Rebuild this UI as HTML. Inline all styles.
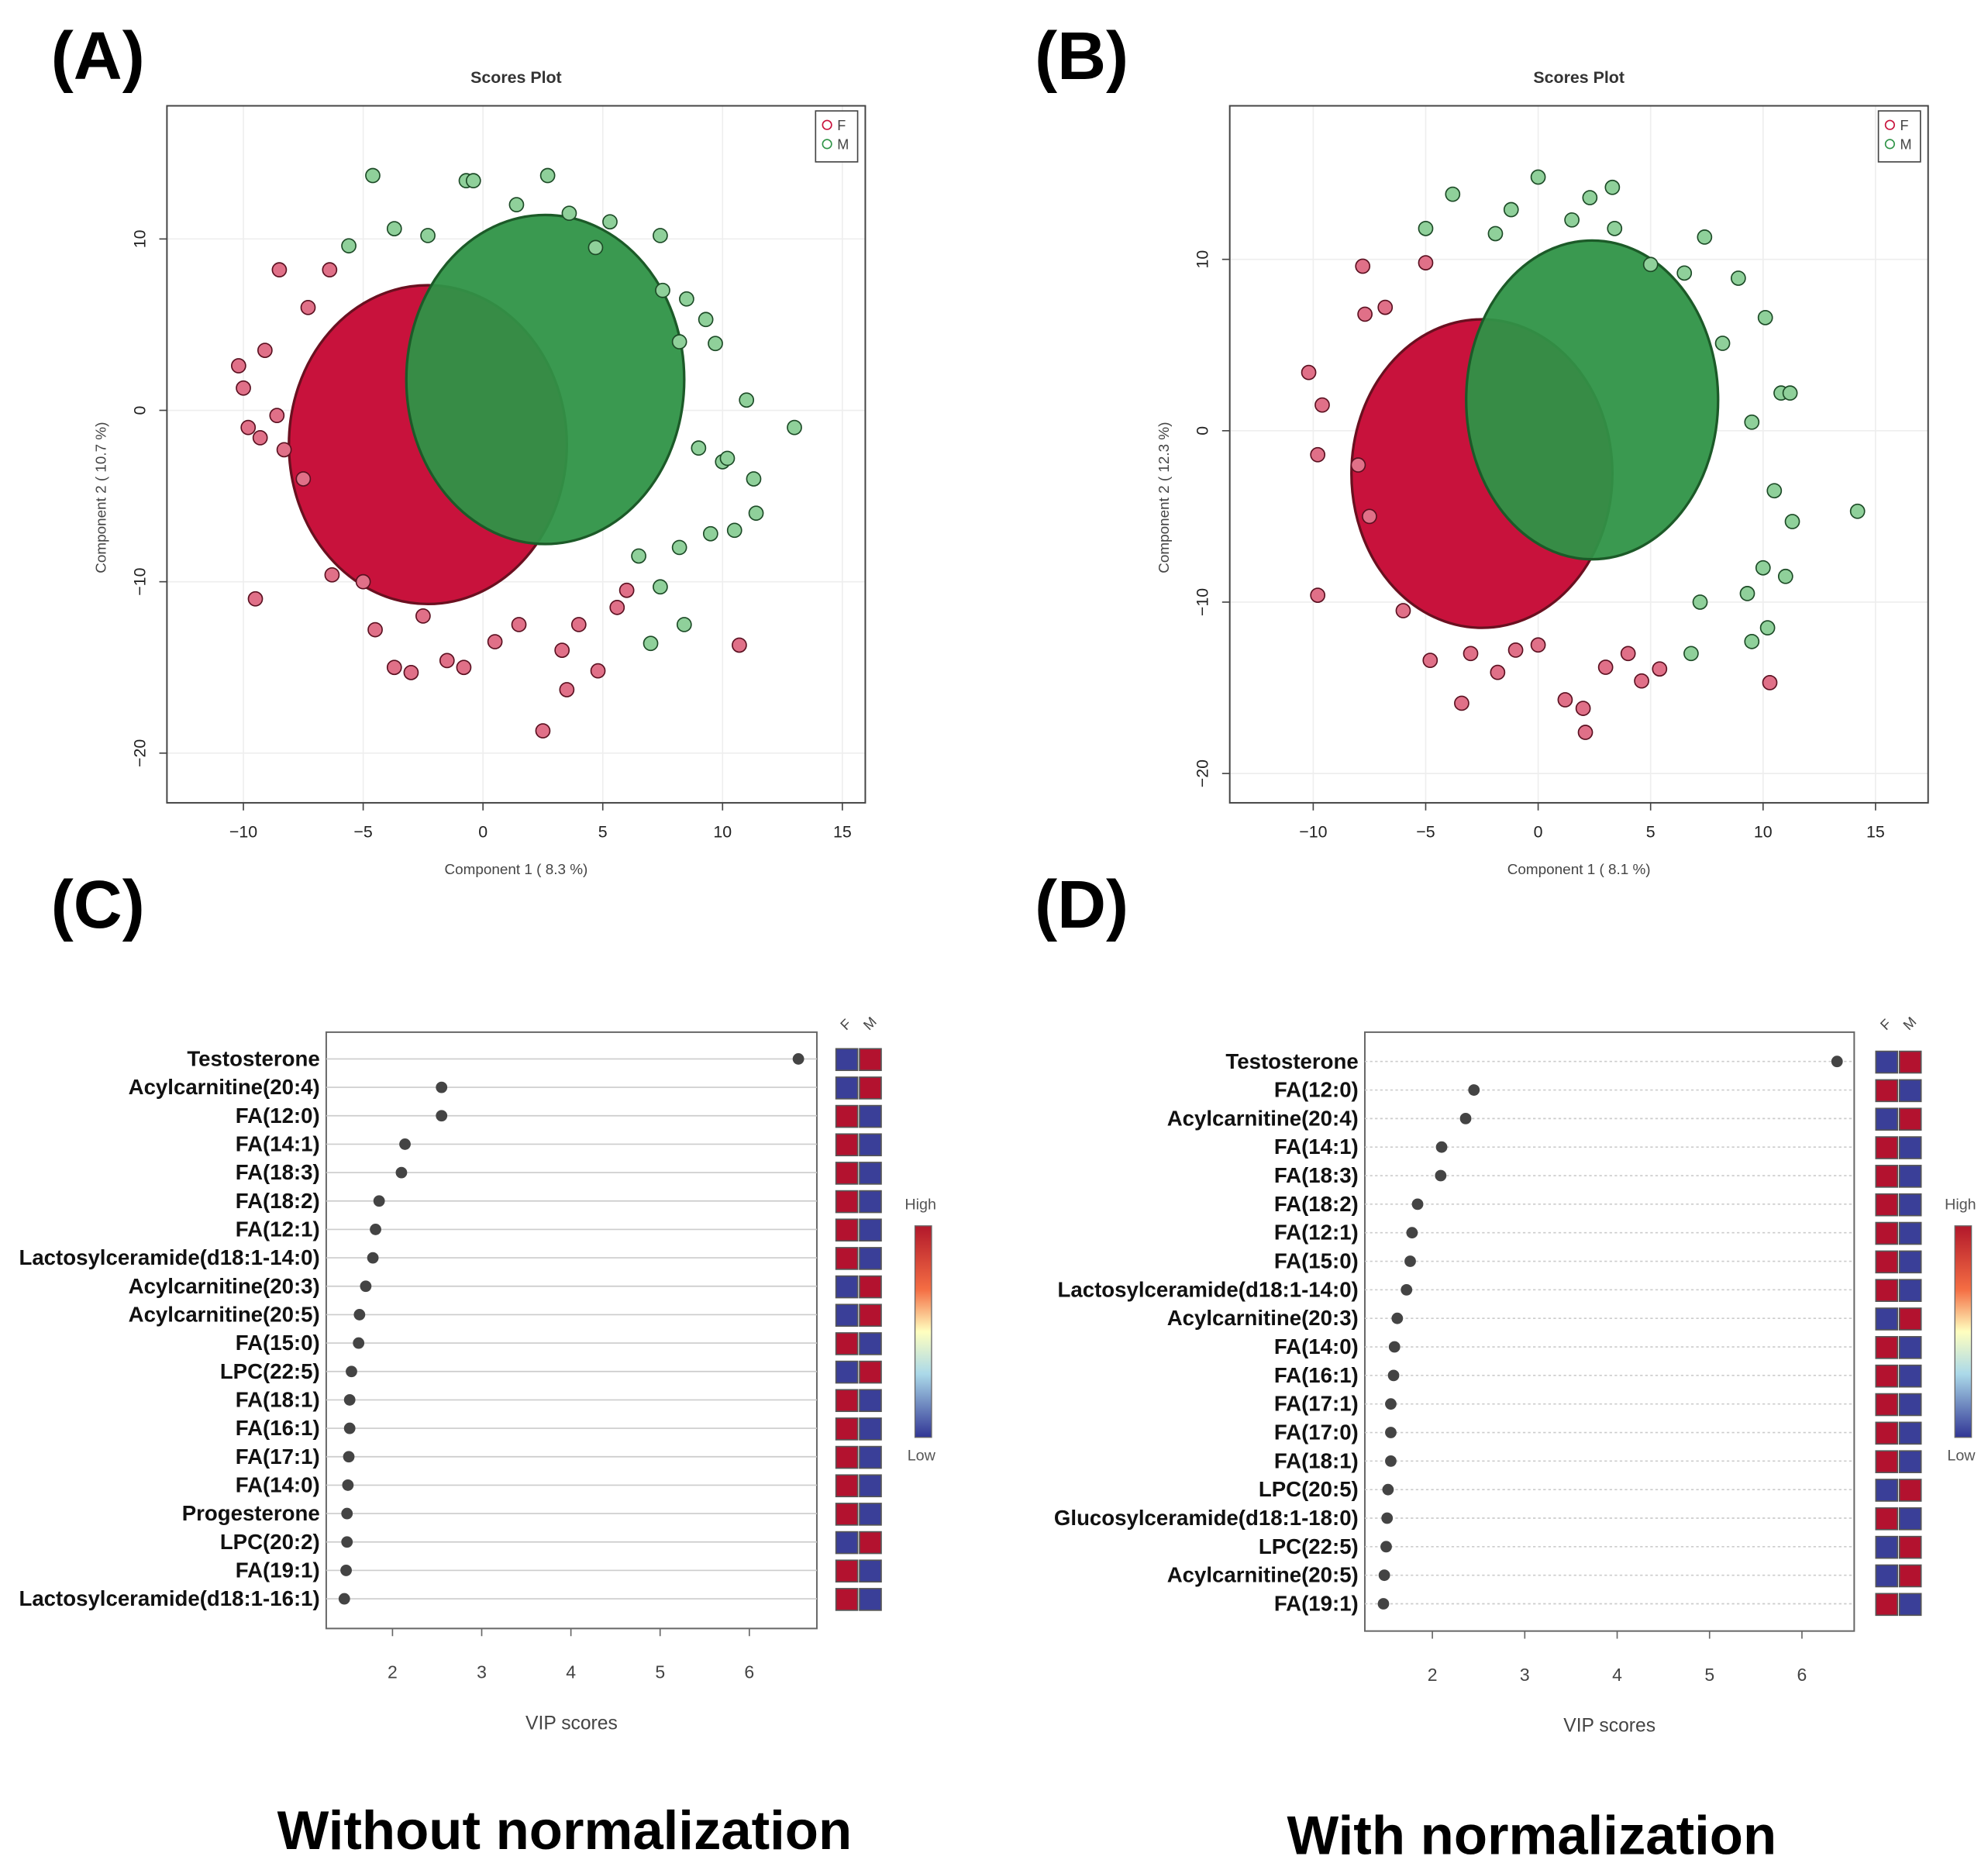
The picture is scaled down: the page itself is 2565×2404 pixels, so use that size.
<!DOCTYPE html>
<html><head><meta charset="utf-8"><style>
html,body{margin:0;padding:0;background:#fff}
svg{display:block}
text{font-family:"Liberation Sans",sans-serif}
</style></head><body>
<svg id="fig" xmlns="http://www.w3.org/2000/svg" width="2565" height="2404" viewBox="0 0 1560 1462"></svg>
<script>
// ---------- DATA ----------
const aRedOut=[[-10.2,2.6],[-10,1.3],[-9.8,-1],[-9.3,-1.6],[-8.6,-0.3],[-8.3,-2.3],[-8.5,8.2],[-9.1,3.5],[-6.4,8.2],[-7.3,6],[-9.5,-11],[-5,-10],[-4.5,-12.8],[-3.7,-15],[-3,-15.3],[-1.5,-14.6],[-0.8,-15],[0.5,-13.5],[1.5,-12.5],[2.5,-18.7],[3.5,-16.3],[3.3,-14],[4.8,-15.2],[5.6,-11.5],[4,-12.5],[-6.3,-9.6],[-7.5,-4],[-2.5,-12],[10.7,-13.7],[6,-10.5]];
const aGreenOut=[[-4.6,13.7],[2.7,13.7],[-0.7,13.4],[-0.4,13.4],[1.4,12],[3.6,11.5],[5.3,11],[4.7,9.5],[7.4,10.2],[7.5,7],[8.5,6.5],[9.3,5.3],[8.2,4],[9.7,3.9],[11,0.6],[13,-1],[10,-3],[11.3,-4],[11.4,-6],[10.5,-7],[9.5,-7.2],[8.2,-8],[7.4,-10.3],[8.4,-12.5],[7,-13.6],[-5.6,9.6],[-3.7,10.6],[-2.3,10.2],[9,-2.2],[10.2,-2.8],[6.5,-8.5]];
const bRedOut=[[-10.2,3.4],[-9.6,1.5],[-9.8,-1.4],[-9.8,-9.6],[-7.8,9.6],[-7.7,6.8],[-6.8,7.2],[-5,9.8],[-4.8,-13.4],[-3.4,-15.9],[-1.8,-14.1],[-1,-12.8],[1.2,-15.7],[2.1,-17.6],[2,-16.2],[3,-13.8],[4.6,-14.6],[5.4,-13.9],[10.3,-14.7],[-6,-10.5],[-3,-13],[0,-12.5],[4,-13],[-7.5,-5],[-8,-2]];
const bGreenOut=[[-3.8,13.8],[-1.2,12.9],[0,14.8],[1.5,12.3],[2.3,13.6],[3.3,14.2],[3.4,11.8],[-5,11.8],[-1.9,11.5],[5,9.7],[6.5,9.2],[7.4,11.3],[8.9,8.9],[10.1,6.6],[10.8,2.2],[11.2,2.2],[11.3,-5.3],[14.2,-4.7],[10,-8],[11,-8.5],[10.2,-11.5],[9.3,-9.5],[9.5,-12.3],[6.8,-13],[7.2,-10],[8.2,5.1],[9.5,0.5],[10.5,-3.5]];
// cores: [cx, cy, rx, ry]
const aRedCore=[-2.3,-2,5.8,9.3];
const aGreenCore=[2.6,1.8,5.8,9.6];
const bRedCore=[-2.5,-2.5,5.8,9.0];
const bGreenCore=[2.4,1.8,5.6,9.3];
const xTicks=[-10,-5,0,5,10,15];
const yTicks=[10,0,-10,-20];
const vipTicks=[2,3,4,5,6];
const cNames=["Testosterone","Acylcarnitine(20:4)","FA(12:0)","FA(14:1)","FA(18:3)","FA(18:2)","FA(12:1)","Lactosylceramide(d18:1-14:0)","Acylcarnitine(20:3)","Acylcarnitine(20:5)","FA(15:0)","LPC(22:5)","FA(18:1)","FA(16:1)","FA(17:1)","FA(14:0)","Progesterone","LPC(20:2)","FA(19:1)","Lactosylceramide(d18:1-16:1)"];
const cVals=[6.55,2.55,2.55,2.14,2.1,1.85,1.81,1.78,1.7,1.63,1.62,1.54,1.52,1.52,1.51,1.5,1.49,1.49,1.48,1.46];
const cFHigh=[0,0,1,1,1,1,1,1,0,0,1,0,1,1,1,1,1,0,1,1];
const dNames=["Testosterone","FA(12:0)","Acylcarnitine(20:4)","FA(14:1)","FA(18:3)","FA(18:2)","FA(12:1)","FA(15:0)","Lactosylceramide(d18:1-14:0)","Acylcarnitine(20:3)","FA(14:0)","FA(16:1)","FA(17:1)","FA(17:0)","FA(18:1)","LPC(20:5)","Glucosylceramide(d18:1-18:0)","LPC(22:5)","Acylcarnitine(20:5)","FA(19:1)"];
const dVals=[6.38,2.45,2.36,2.1,2.09,1.84,1.78,1.76,1.72,1.62,1.59,1.58,1.55,1.55,1.55,1.52,1.51,1.5,1.48,1.47];
const dFHigh=[0,1,0,1,1,1,1,1,1,0,1,1,1,1,1,0,1,0,0,1];

// ---------- HELPERS ----------
const NS="http://www.w3.org/2000/svg";
const svg=document.getElementById('fig');
function mk(tag,attrs,parent,txt){const e=document.createElementNS(NS,tag);for(const k in attrs)e.setAttribute(k,attrs[k]);if(txt!==undefined)e.textContent=txt;(parent||svg).appendChild(e);return e;}
const RED="#c8123c",GREEN="#2f9447",HR="#b3122f",HB="#3a3f98";

function scatter(id,box,xm,ym,redCore,greenCore,redOut,greenOut,xlab,ylab){
  const g=mk('g',{});
  const X=v=>xm.x0+(v-0)*xm.k, Y=v=>ym.y0-(v-0)*ym.k;
  xTicks.forEach(t=>{const l=mk('line',{x1:X(t),x2:X(t),y1:box[1],y2:box[3],stroke:'#eee','stroke-width':1},g);});
  yTicks.forEach(t=>{const l=mk('line',{x1:box[0],x2:box[2],y1:Y(t),y2:Y(t),stroke:'#eee','stroke-width':1},g);});
  let e=mk('ellipse',{cx:X(redCore[0]),cy:Y(redCore[1]),rx:redCore[2]*xm.k,ry:redCore[3]*ym.k,fill:RED,stroke:'#6a1020','stroke-width':2},g);
  
  e=mk('ellipse',{cx:X(greenCore[0]),cy:Y(greenCore[1]),rx:greenCore[2]*xm.k,ry:greenCore[3]*ym.k,fill:GREEN,stroke:'#1c5a28','stroke-width':2,'fill-opacity':0.95},g);
  
  redOut.forEach(p=>{const c=mk('circle',{cx:X(p[0]),cy:Y(p[1]),r:5.5,fill:'#e07088',stroke:'#5a1020','stroke-width':1},g);});
  greenOut.forEach(p=>{const c=mk('circle',{cx:X(p[0]),cy:Y(p[1]),r:5.5,fill:'#8fd09a',stroke:'#1c4a26','stroke-width':1},g);});
  let r=mk('rect',{x:box[0],y:box[1],width:box[2]-box[0],height:box[3]-box[1],fill:'none',stroke:'#444','stroke-width':1.2},g);
  
  xTicks.forEach(t=>{mk('line',{x1:X(t),x2:X(t),y1:box[3],y2:box[3]+6,stroke:'#444'},g);const tx=mk('text',{x:X(t),y:box[3]+27,'font-size':13,'text-anchor':'middle',fill:'#222'},g,t<0?'\u2212'+(-t):t);});
  yTicks.forEach(t=>{mk('line',{x1:box[0]-6,x2:box[0],y1:Y(t),y2:Y(t),stroke:'#444'},g);const tx=mk('text',{x:box[0]-17,y:Y(t),'font-size':13,'text-anchor':'middle',fill:'#222',transform:`rotate(-90 ${box[0]-17} ${Y(t)})`},g,t<0?'\u2212'+(-t):t);});
  let t=mk('text',{x:(box[0]+box[2])/2,y:box[1]-18,'font-size':13,'font-weight':'bold','text-anchor':'middle',fill:'#333'},g,'Scores Plot');
  t=mk('text',{x:(box[0]+box[2])/2,y:box[3]+56,'font-size':11.5,'text-anchor':'middle',fill:'#444'},g,xlab);
  const yx=box[0]-48,yy=(box[1]+box[3])/2+34;
  t=mk('text',{x:yx,y:yy,'font-size':11.5,'text-anchor':'middle',fill:'#444',transform:`rotate(-90 ${yx} ${yy})`},g,ylab);
  const lg=mk('g',{},g);
  mk('rect',{x:box[2]-39,y:box[1]+4,width:33,height:40,fill:'#fff',stroke:'#444'},lg);
  mk('circle',{cx:box[2]-30,cy:box[1]+15,r:3.5,fill:'none',stroke:RED},lg);
  mk('text',{x:box[2]-22,y:box[1]+19,'font-size':11,fill:'#444'},lg,'F');
  mk('circle',{cx:box[2]-30,cy:box[1]+30,r:3.5,fill:'none',stroke:GREEN},lg);
  mk('text',{x:box[2]-22,y:box[1]+34,'font-size':11,fill:'#444'},lg,'M');
}

function vip(id,box,x2,k,rowY0,rowStep,names,vals,fHigh,hmX,cbX){
  const g=mk('g',{});
  const X=v=>x2+(v-2)*k;
  let r=mk('rect',{x:box[0],y:box[1],width:box[2]-box[0],height:box[3]-box[1],fill:'#fff',stroke:'#666','stroke-width':1.2},g);
  
  names.forEach((n,i)=>{
    const y=rowY0+i*rowStep;
    mk('line',{x1:box[0],x2:box[2],y1:y,y2:y,stroke:'#ccc','stroke-width':1,'stroke-dasharray':id==='d'?'2,2':''},g);
    const t=mk('text',{x:box[0]-5,y:y+5.5,'font-size':16.8,'font-weight':'bold','text-anchor':'end',fill:'#111'},g,n);
    const c=mk('circle',{cx:X(vals[i]),cy:y,r:4.5,fill:'#444'},g);
    const a=mk('rect',{x:hmX,y:y-8,width:17,height:17,fill:fHigh[i]?HR:HB,stroke:'#555','stroke-width':1},g);
    const b=mk('rect',{x:hmX+18.5,y:y-8,width:17,height:17,fill:fHigh[i]?HB:HR,stroke:'#555','stroke-width':1},g);
  });
  mk('text',{x:hmX+8,y:box[1]-1,'font-size':11,fill:'#444',transform:`rotate(-45 ${hmX+8} ${box[1]-1})`},g,'F');
  mk('text',{x:hmX+26,y:box[1]-1,'font-size':11,fill:'#444',transform:`rotate(-45 ${hmX+26} ${box[1]-1})`},g,'M');
  vipTicks.forEach(t=>{mk('line',{x1:X(t),x2:X(t),y1:box[3],y2:box[3]+6,stroke:'#666'},g);const tx=mk('text',{x:X(t),y:box[3]+39,'font-size':14,'text-anchor':'middle',fill:'#444'},g,t);});
  let t=mk('text',{x:(box[0]+box[2])/2,y:box[3]+79,'font-size':15,'text-anchor':'middle',fill:'#444'},g,'VIP scores');
  const cb=mk('g',{},g);
  mk('rect',{x:cbX,y:962,width:13,height:166,fill:'url(#cbgrad)',stroke:'#666','stroke-width':0.8},cb);
  mk('text',{x:cbX-8,y:949,'font-size':12,fill:'#555'},cb,'High');
  mk('text',{x:cbX-6,y:1146,'font-size':12,fill:'#555'},cb,'Low');
}
const defs=mk('defs',{});
const gr=mk('linearGradient',{id:'cbgrad',x1:0,y1:0,x2:0,y2:1},defs);
[['0','#b2182b'],['0.3','#f46d43'],['0.5','#ffffbf'],['0.7','#abd9e9'],['1','#313695']].forEach(s=>mk('stop',{offset:s[0],'stop-color':s[1]},gr));

scatter('a',[131,83,679,630],{x0:379,k:18.8},{y0:322,k:13.45},aRedCore,aGreenCore,aRedOut,aGreenOut,'Component 1 ( 8.3 %)','Component 2 ( 10.7 %)');
scatter('b',[965,83,1513,630],{x0:1207,k:17.65},{y0:338,k:13.45},bRedCore,bGreenCore,bRedOut,bGreenOut,'Component 1 ( 8.1 %)','Component 2 ( 12.3 %)');
vip('c',[256,810,641,1278],308,70,831,22.3,cNames,cVals,cFHigh,656,718);
vip('d',[1071,810,1455,1280],1124,72.5,833,22.4,dNames,dVals,dFHigh,1472,1534);

[['(A)',40,62],['(B)',812,62],['(C)',40,728],['(D)',812,728]].forEach(p=>{const t=mk('text',{x:p[1],y:p[2],'font-size':53,'font-weight':'bold',fill:'#000'},svg,p[0]);});
let t=mk('text',{x:443,y:1451,'font-size':43,'font-weight':'bold','text-anchor':'middle',fill:'#000'},svg,'Without normalization');
t=mk('text',{x:1202,y:1455,'font-size':43,'font-weight':'bold','text-anchor':'middle',fill:'#000'},svg,'With normalization');
</script>
</body></html>
